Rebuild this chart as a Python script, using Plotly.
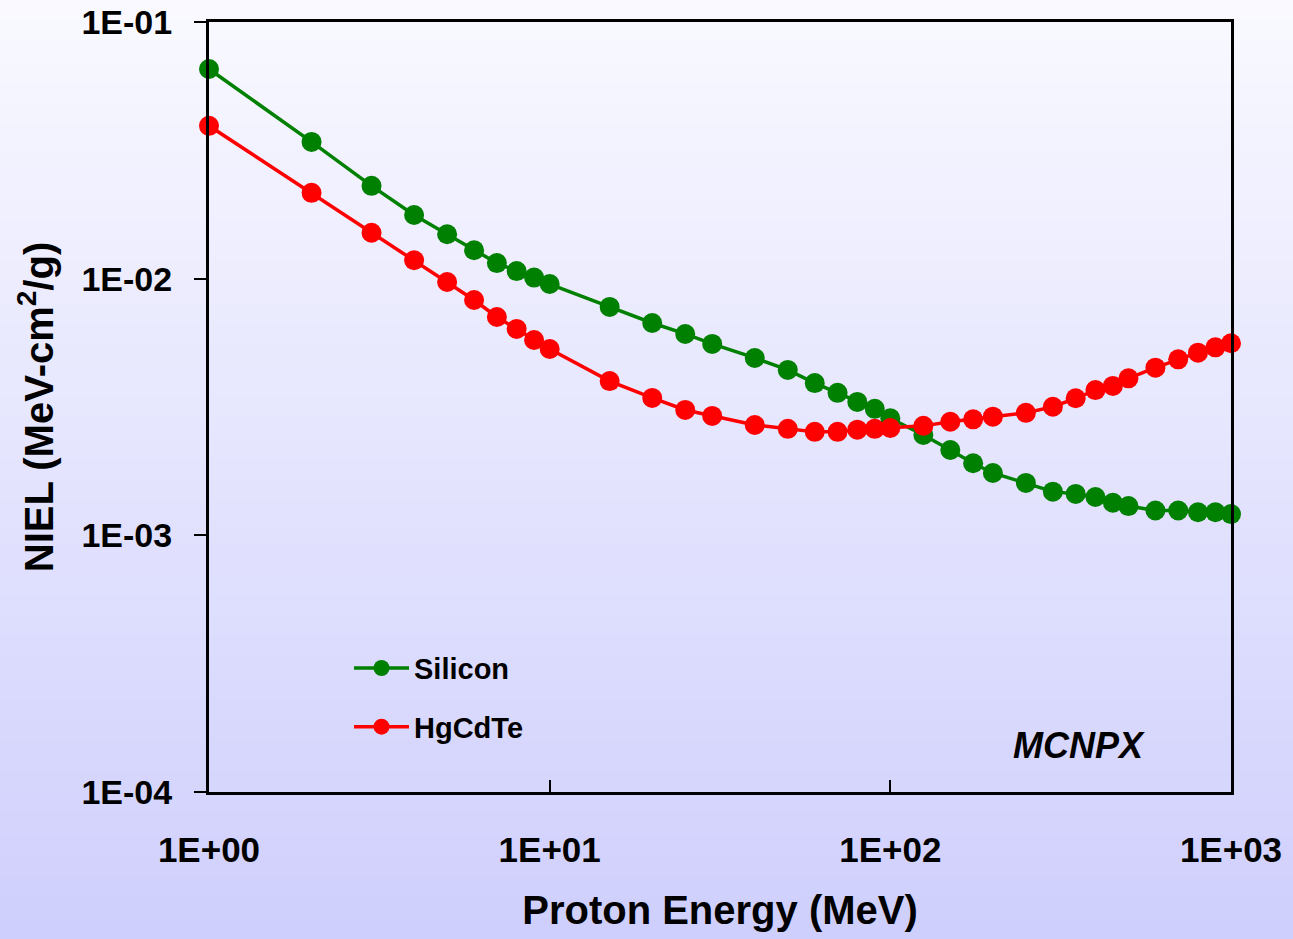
import plotly.graph_objects as go

# Proton energies (MeV) at which NIEL was tabulated
energy_mev = [1, 2, 3, 4, 5, 6, 7, 8, 9, 10, 15, 20, 25, 30, 40, 50, 60, 70, 80, 90,
              100, 125, 150, 175, 200, 250, 300, 350, 400, 450, 500, 600, 700, 800, 900, 1000]

# NIEL (MeV-cm^2/g) for each material
niel_silicon = [0.0656, 0.0341, 0.0230, 0.0177, 0.0149, 0.0129, 0.0115, 0.0107, 0.0101, 0.00953,
                0.00776, 0.00672, 0.00609, 0.00557, 0.00491, 0.00441, 0.00392, 0.00359, 0.00331, 0.00311,
                0.00286, 0.00246, 0.00215, 0.00191, 0.00175, 0.00160, 0.00148, 0.00145, 0.00141, 0.00134,
                0.00130, 0.00125, 0.00125, 0.00123, 0.00123, 0.00121]
niel_hgcdte = [0.0394, 0.0216, 0.0151, 0.0118, 0.00971, 0.00826, 0.00709, 0.00637, 0.00577, 0.00532,
               0.00399, 0.00343, 0.00308, 0.00292, 0.00269, 0.00260, 0.00253, 0.00253, 0.00258, 0.00260,
               0.00262, 0.00267, 0.00277, 0.00283, 0.00290, 0.00300, 0.00317, 0.00342, 0.00368, 0.00382,
               0.00409, 0.00450, 0.00485, 0.00515, 0.00540, 0.00560]

# Axis ticks
x_tickvals = [1, 10, 100, 1000]
x_ticktext = ["1E+00", "1E+01", "1E+02", "1E+03"]
y_tickvals = [1e-4, 1e-3, 1e-2, 1e-1]
y_ticktext = ["1E-04", "1E-03", "1E-02", "1E-01"]

FONT = "Liberation Sans, Arial, sans-serif"

fig = go.Figure()
fig.add_trace(go.Scatter(
    x=energy_mev, y=niel_silicon, name="Silicon", mode="lines+markers",
    line=dict(color="#008000", width=3.5), marker=dict(color="#008000", size=20),
    legendgroup="si", cliponaxis=False,
))
fig.add_trace(go.Scatter(
    x=energy_mev, y=niel_hgcdte, name="HgCdTe", mode="lines+markers",
    line=dict(color="#ff0000", width=3.5), marker=dict(color="#ff0000", size=20),
    legendgroup="hg", cliponaxis=False,
))

# Vertical background gradient, white-ish at the top to lavender at the bottom
W, H = 1293, 939
L, R, T, B = 209, 62, 22, 147
pw, ph = W - L - R, H - T - B
top_rgb = (249, 249, 255)
bot_rgb = (207, 207, 253)
n_strips = 90
shapes = []
for i in range(n_strips):
    f = i / (n_strips - 1)
    c = tuple(round(top_rgb[k] + (bot_rgb[k] - top_rgb[k]) * f) for k in range(3))
    py0 = H * i / n_strips
    py1 = H * (i + 1) / n_strips + 1
    shapes.append(dict(
        type="rect", xref="paper", yref="paper", layer="below",
        x0=-L / pw - 0.01, x1=(W - L) / pw + 0.01,
        y0=(H - B - py0) / ph, y1=(H - B - py1) / ph,
        fillcolor="rgb(%d,%d,%d)" % c, line=dict(width=0),
    ))

fig.update_layout(
    width=W, height=H,
    margin=dict(l=L, r=R, t=T, b=B, autoexpand=False),
    paper_bgcolor="rgb(%d,%d,%d)" % bot_rgb,
    plot_bgcolor="rgba(0,0,0,0)",
    font=dict(family=FONT, color="black", weight="bold"),
    shapes=shapes,
    showlegend=True,
    legend=dict(
        x=0.137, y=0.194, xanchor="left", yanchor="top",
        bgcolor="rgba(0,0,0,0)", borderwidth=0, itemwidth=55,
        font=dict(family=FONT, size=29, color="black", weight="bold"),
        traceorder="grouped", tracegroupgap=18,
    ),
    annotations=[dict(
        text="<b><i>MCNPX</i></b>", x=0.851, y=0.061, xref="paper", yref="paper",
        xanchor="center", yanchor="middle",
        showarrow=False, font=dict(family=FONT, size=36, color="black"),
    )],
)

fig.update_xaxes(
    type="log", range=[0, 3],
    tickvals=x_tickvals, ticktext=x_ticktext,
    ticks="inside", ticklen=12, tickwidth=2, tickcolor="black",
    showline=True, linewidth=3, linecolor="black", mirror=True,
    showgrid=False, zeroline=False,
    tickfont=dict(family=FONT, size=35, color="black", weight="bold"),
    ticklabelstandoff=25,
    title=dict(text="Proton Energy (MeV)", standoff=28,
               font=dict(family=FONT, size=40, color="black", weight="bold")),
    automargin=False,
)
fig.update_yaxes(
    type="log", range=[-4, -1],
    tickvals=y_tickvals, ticktext=y_ticktext,
    ticks="outside", ticklen=12, tickwidth=2, tickcolor="black",
    showline=True, linewidth=3, linecolor="black", mirror=True,
    showgrid=False, zeroline=False,
    tickfont=dict(family=FONT, size=34, color="black", weight="bold"),
    ticklabelstandoff=15,
    title=dict(text="NIEL (MeV-cm<sup>2</sup>/g)", standoff=16,
               font=dict(family=FONT, size=40, color="black", weight="bold")),
    automargin=False,
)

fig.write_html("out.html")
